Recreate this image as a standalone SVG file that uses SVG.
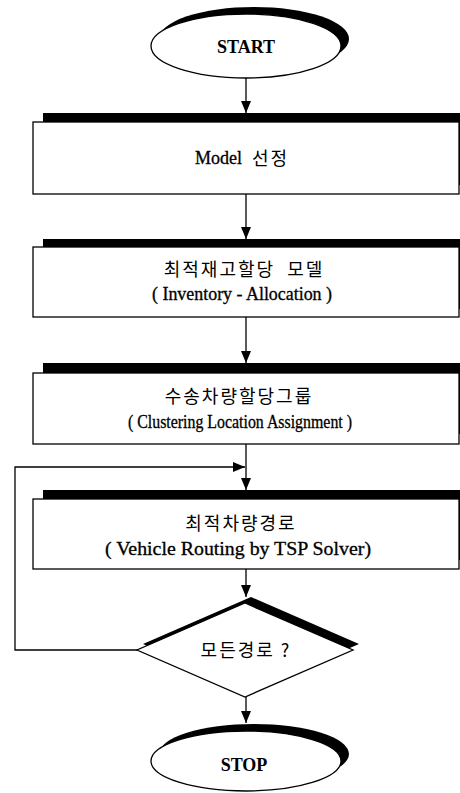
<svg xmlns="http://www.w3.org/2000/svg" width="460" height="793" viewBox="0 0 460 793">
<style>
.bg{fill:#fff}
.sh{fill:#000}
.nd{fill:#fff;stroke:#000;stroke-width:1.3}
.ln{fill:none;stroke:#000;stroke-width:1.3}
.en{font-family:"Liberation Serif",serif;font-size:18px;text-anchor:middle;fill:#000;stroke:#000;stroke-width:0.3}
.tt{font-family:"Liberation Serif",serif;font-weight:bold;font-size:18px;text-anchor:middle;fill:#000}
.ko{font-family:"Noto Sans CJK KR",sans-serif;font-size:18px;letter-spacing:2px;text-anchor:middle;fill:#000}
</style>
<defs>
<marker id="ah" markerUnits="userSpaceOnUse" markerWidth="12" markerHeight="10" refX="12" refY="5" orient="auto">
<path d="M0,0 L12,5 L0,10 z" fill="#000"/>
</marker>
</defs>
<rect class="bg" x="0" y="0" width="460" height="793"/>
<g id="connectors">
<path class="ln" d="M246,78 V113" marker-end="url(#ah)"/>
<path class="ln" d="M246,194 V239" marker-end="url(#ah)"/>
<path class="ln" d="M246,317 V363" marker-end="url(#ah)"/>
<path class="ln" d="M246,444 V490" marker-end="url(#ah)"/>
<path class="ln" d="M246,569 V597" marker-end="url(#ah)"/>
<path class="ln" d="M246,697 V723" marker-end="url(#ah)"/>
<path class="ln" d="M137,650 H15 V467 H245" marker-end="url(#ah)"/>
</g>
<g id="start">
<ellipse class="sh" cx="254" cy="39" rx="95" ry="32"/>
<ellipse class="nd" cx="246" cy="46" rx="95" ry="32"/>
<text class="tt" x="246" y="53">START</text>
</g>
<g id="model">
<rect class="sh" x="43" y="113" width="426" height="72"/>
<rect class="nd" x="33" y="122" width="426" height="72"/>
<text class="en" x="195" y="164" style="text-anchor:start">Model</text>
<text class="ko" x="252" y="165" style="text-anchor:start">선정</text>
</g>
<g id="inventory">
<rect class="sh" x="43" y="239" width="426" height="70"/>
<rect class="nd" x="33" y="247" width="426" height="70"/>
<text class="ko" x="244" y="276" xml:space="preserve">최적재고할당  모델</text>
<text class="en" x="242" y="300" textLength="180" lengthAdjust="spacingAndGlyphs">( Inventory - Allocation )</text>
</g>
<g id="cluster">
<rect class="sh" x="43" y="363" width="426" height="71"/>
<rect class="nd" x="33" y="373" width="426" height="71"/>
<text class="ko" x="239" y="403">수송차량할당그룹</text>
<text class="en" x="240" y="428" textLength="224" lengthAdjust="spacingAndGlyphs">( Clustering Location Assignment )</text>
</g>
<g id="routing">
<rect class="sh" x="43" y="490" width="426" height="70"/>
<rect class="nd" x="33" y="499" width="426" height="70"/>
<text class="ko" x="241" y="530">최적차량경로</text>
<text class="en" x="238" y="555" textLength="266" lengthAdjust="spacingAndGlyphs">( Vehicle Routing by TSP Solver)</text>
</g>
<g id="decision">
<polygon class="sh" points="251,597 359,644 251,691 143,644"/>
<polygon class="nd" points="245,603 353,650 245,697 137,650"/>
<text class="ko" x="246" y="657">모든경로 ?</text>
</g>
<g id="stop">
<ellipse class="sh" cx="254" cy="754" rx="95" ry="30"/>
<ellipse class="nd" cx="246" cy="761" rx="95" ry="30"/>
<text class="tt" x="244" y="771">STOP</text>
</g>
</svg>
